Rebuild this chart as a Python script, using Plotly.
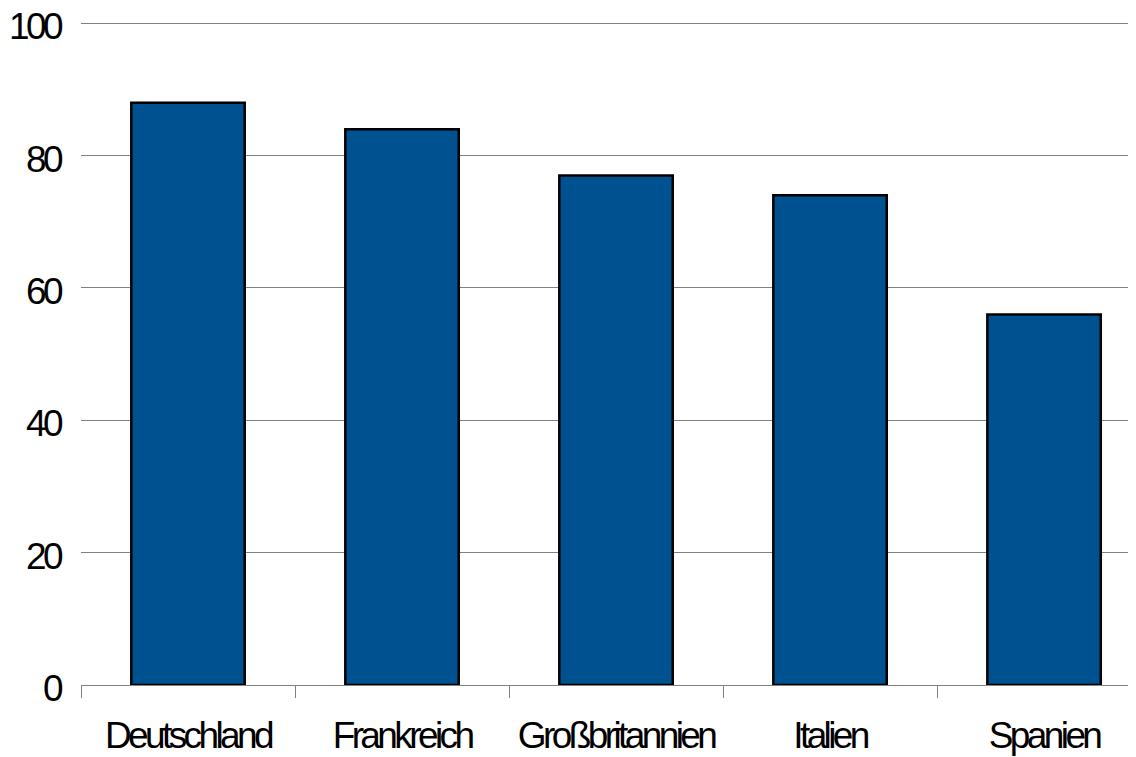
import plotly.graph_objects as go

# Ländervergleich, Werte in Prozent
LAENDER = ["Deutschland", "Frankreich", "Großbritannien", "Italien", "Spanien"]
WERTE = [88, 84, 77, 74, 56]
Y_TICKS = [0, 20, 40, 60, 80, 100]

FONT = "Liberation Sans, Arial, sans-serif"
# the original uses tightly set Arial, so squeeze the letters a bit
TIGHT = '<span style="letter-spacing:-3.6px">{}</span>'

fig = go.Figure()

fig.add_trace(
    go.Bar(
        x=LAENDER,
        y=WERTE,
        width=0.53,
        marker=dict(color="#00518F", line=dict(color="#000000", width=2.5)),
        hovertemplate="%{x}: %{y}<extra></extra>",
    )
)

fig.update_layout(
    width=1136,
    height=757,
    # the page body adds 8px, so margins are a bit smaller than the picture
    margin=dict(l=73, r=0, t=14, b=80),
    paper_bgcolor="white",
    plot_bgcolor="white",
    showlegend=False,
    font=dict(family=FONT, size=37, color="#000000"),
    xaxis=dict(
        automargin=False,
        range=[-0.5, 4.467],
        tickmode="array",
        tickvals=LAENDER,
        ticktext=[TIGHT.format(t) for t in LAENDER],
        tickangle=0,
        tickson="boundaries",
        ticks="outside",
        ticklen=12,
        tickcolor="#808080",
        tickwidth=1,
        showline=True,
        linecolor="#808080",
        linewidth=1,
        showgrid=False,
        ticklabelstandoff=18,
        ticklabeloverflow="allow",
        tickfont=dict(family=FONT, size=37),
    ),
    yaxis=dict(
        automargin=False,
        range=[0, 100.2],
        tickvals=Y_TICKS,
        ticktext=[TIGHT.format(v) for v in Y_TICKS],
        showgrid=True,
        gridcolor="#808080",
        gridwidth=1,
        zeroline=False,
        showline=False,
        ticks="",
        ticklabelstandoff=20,
        ticklabelshift=3,
        ticklabeloverflow="allow",
        tickfont=dict(family=FONT, size=37),
    ),
)

fig.write_html("out.html")
